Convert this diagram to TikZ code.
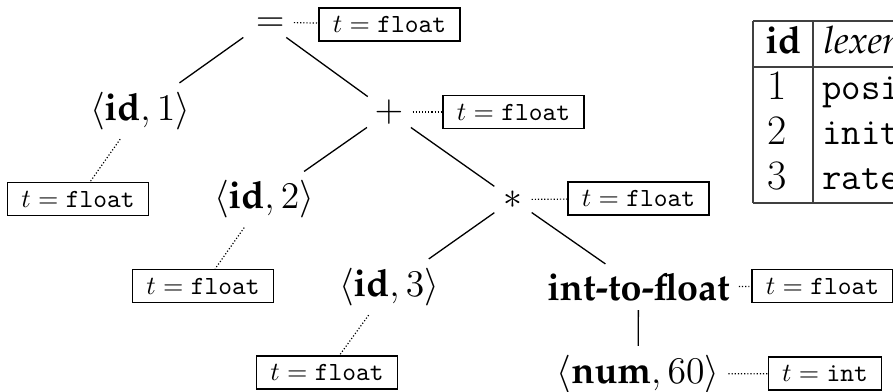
\documentclass[tikz,border=0pt]{standalone}
\usepackage[T1,TU]{fontenc}
\newcommand\pal{\fontencoding{T1}\fontfamily{ppl}\selectfont}
\tikzset{
  tree/.style={font=\Large, inner sep=3.33pt},
  op/.style={font=\Large, inner xsep=3.33pt, inner ysep=-1.5pt},
  ann/.style={draw, line width=0.5pt, font=\normalsize, inner xsep=5.3pt, inner ysep=3.2pt},
  edge/.style={line width=0.5pt},
  dots/.style={line width=0.45pt, dash pattern=on 0.45pt off 0.75pt},
  tabrule/.style={line width=0.5pt, black!75},
  cell/.style={anchor=base west, inner sep=0pt},
}
\begin{document}
\begin{tikzpicture}[x=0.382pt, y=-0.382pt]
\useasboundingbox (0,0) rectangle (893,391);
\clip (0,0) rectangle (893,391);
% tree nodes
\node[op] (eq) at (265,22) {$\vphantom{\langle}=$};
\node[tree] (id1) at (140,111) {$\langle\mbox{\pal\bfseries id}, 1\rangle$};
\node[op] (plus) at (389,112) {$\vphantom{\langle}+$};
\node[tree] (id2) at (264,199.5) {$\langle\mbox{\pal\bfseries id}, 2\rangle$};
\node[op] (times) at (513,199.5) {$\vphantom{\langle}\ast$};
\node[tree] (id3) at (389,287) {$\langle\mbox{\pal\bfseries id}, 3\rangle$};
\node[tree, font=\Large\pal\bfseries] (itf) at (638.5,287) {int-to-float};
\node[tree] (num) at (638,374) {$\langle\mbox{\pal\bfseries num}, 60\rangle$};
% annotation boxes
\node[ann] (b0) at (389.5,24.5) {$t=\texttt{float}$};
\node[ann] (b1) at (78,199) {$t=\texttt{float}$};
\node[ann] (b2) at (513.5,112) {$t=\texttt{float}$};
\node[ann] (b3) at (203,286) {$t=\texttt{float}$};
\node[ann] (b4) at (638.5,198.5) {$t=\texttt{float}$};
\node[ann] (b5) at (327,372.5) {$t=\texttt{float}$};
\node[ann] (b6) at (822.5,286) {$t=\texttt{float}$};
\node[ann] (b7) at (825,373.5) {$t=\texttt{int}$};
% edges
\draw[edge] (eq) -- (id1);
\draw[edge] (eq) -- (plus);
\draw[edge] (plus) -- (id2);
\draw[edge] (plus) -- (times);
\draw[edge] (times) -- (id3);
\draw[edge] (times) -- (itf);
\draw[edge] (itf) -- (num);
% dotted links
\draw[dots] (eq) -- (b0);
\draw[dots] (id1) -- (b1);
\draw[dots] (plus) -- (b2);
\draw[dots] (id2) -- (b3);
\draw[dots] (times) -- (b4);
\draw[dots] (id3) -- (b5);
\draw[dots] (itf) -- (b6);
\draw[dots] (num) -- (b7);
% symbol table
\draw[tabrule] (753,21) -- (900,21);
\draw[tabrule] (753,67) -- (900,67);
\draw[tabrule] (753,203) -- (900,203);
\draw[tabrule] (753,21) -- (753,203);
\draw[tabrule] (813,21) -- (813,203);
\node[cell, font=\Large\pal\bfseries] (hid) at (765,53) {id};
\node[cell, font=\Large\pal\itshape] (hlex) at (823,53) {lexeme};
\node[cell, font=\fontsize{16}{19}\selectfont] (r1) at (767,99) {1};
\node[cell, font=\fontsize{16}{19}\selectfont] (r2) at (767,144) {2};
\node[cell, font=\fontsize{16}{19}\selectfont] (r3) at (767,189) {3};
\node[cell, font=\Large\ttfamily] (l1) at (822,99) {position};
\node[cell, font=\Large\ttfamily] (l2) at (822,144) {initial};
\node[cell, font=\Large\ttfamily] (l3) at (822,189) {rate};
\end{tikzpicture}
\end{document}
